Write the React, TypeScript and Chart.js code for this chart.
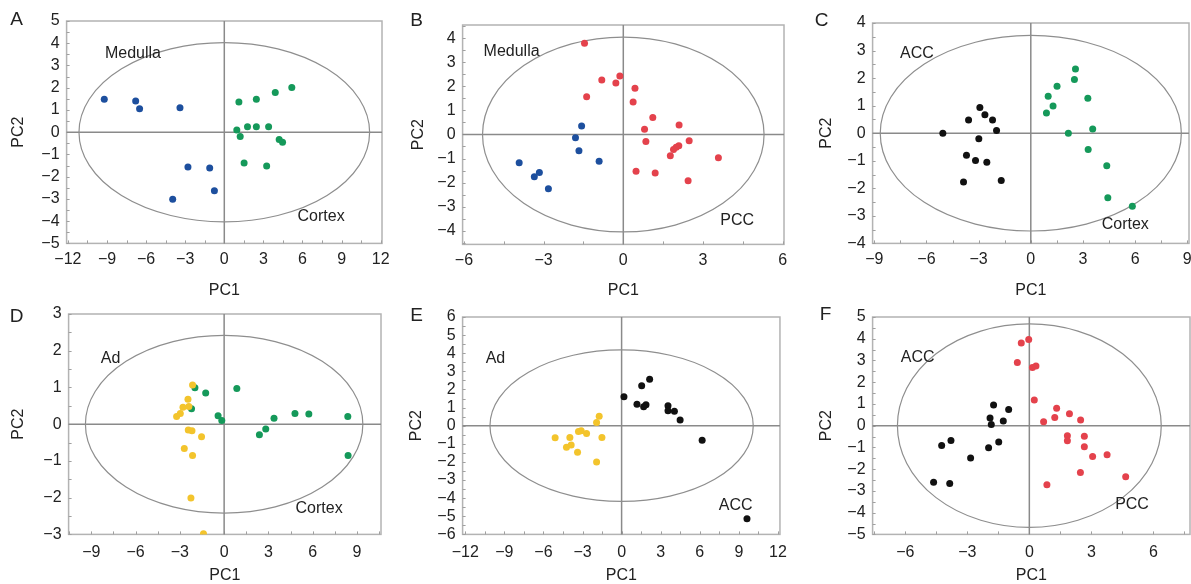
import React, { useEffect, useRef } from 'react';
import { Chart, registerables } from 'chart.js';

Chart.register(...registerables);

// ---------- Data (PC1, PC2) ----------
const aMedulla = [[-9.21, 1.48], [-6.8, 1.4], [-6.5, 1.06], [-3.4, 1.1], [-2.79, -1.57], [-1.12, -1.61], [-0.76, -2.63], [-3.96, -3.01]];
const aCortex = [[1.12, 1.36], [2.46, 1.48], [3.91, 1.79], [5.18, 2.01], [0.96, 0.1], [1.78, 0.24], [2.46, 0.24], [3.4, 0.24], [1.22, -0.19], [4.21, -0.33], [4.47, -0.45], [1.52, -1.39], [3.25, -1.52]];

const bMedulla = [[-1.57, 0.35], [-1.8, -0.14], [-1.67, -0.68], [-0.91, -1.11], [-3.92, -1.18], [-3.35, -1.76], [-3.16, -1.58], [-2.82, -2.26]];
const bPCC = [[-1.46, 3.79], [-0.81, 2.26], [-0.28, 2.14], [-0.13, 2.43], [-1.38, 1.57], [0.44, 1.92], [0.37, 1.35], [1.11, 0.71], [0.8, 0.22], [2.1, 0.39], [0.85, -0.29], [2.48, -0.26], [2.09, -0.47], [1.99, -0.53], [1.89, -0.63], [1.77, -0.89], [3.58, -0.97], [0.48, -1.53], [1.2, -1.6], [2.44, -1.92]];

const cACC = [[-5.06, 0.0], [-3.58, 0.48], [-2.93, 0.93], [-2.64, 0.67], [-2.2, 0.48], [-1.97, 0.1], [-2.99, -0.2], [-3.7, -0.8], [-3.18, -0.99], [-2.53, -1.05], [-3.87, -1.77], [-1.7, -1.72]];
const cCortex = [[2.57, 2.33], [2.51, 1.95], [1.51, 1.7], [1.0, 1.34], [1.28, 0.99], [0.9, 0.73], [3.28, 1.27], [2.16, 0.0], [3.56, 0.15], [3.3, -0.59], [4.37, -1.18], [4.43, -2.34], [5.84, -2.65]];

const dAd = [[-2.14, 1.07], [-2.45, 0.68], [-2.79, 0.46], [-2.39, 0.48], [-2.97, 0.29], [-3.22, 0.21], [-2.43, -0.16], [-2.18, -0.18], [-1.53, -0.34], [-2.7, -0.66], [-2.14, -0.85], [-2.25, -2.01], [-1.4, -2.98]];
const dCortex = [[-1.98, 0.99], [-1.25, 0.85], [0.86, 0.97], [-2.21, 0.42], [-0.41, 0.23], [-0.16, 0.1], [3.38, 0.16], [4.8, 0.29], [5.74, 0.28], [8.38, 0.21], [2.39, -0.29], [2.82, -0.13], [8.4, -0.85]];

const eAd = [[-1.72, 0.52], [-1.92, 0.18], [-3.31, -0.32], [-3.1, -0.28], [-2.69, -0.43], [-1.51, -0.65], [-5.1, -0.67], [-3.97, -0.65], [-3.87, -1.06], [-4.23, -1.19], [-3.38, -1.47], [-1.92, -2.01]];
const eACC = [[0.18, 1.6], [1.54, 2.2], [2.15, 2.57], [1.18, 1.19], [1.69, 1.04], [1.87, 1.15], [3.56, 1.1], [3.56, 0.82], [4.05, 0.8], [4.49, 0.32], [6.18, -0.8], [9.62, -5.14]];

const fACC = [[-1.73, 0.95], [-1.0, 0.74], [-1.9, 0.35], [-1.84, 0.06], [-1.26, 0.22], [-1.48, -0.75], [-1.97, -1.02], [-2.84, -1.49], [-3.79, -0.68], [-4.24, -0.91], [-4.63, -2.6], [-3.85, -2.66]];
const fPCC = [[-0.39, 3.8], [-0.03, 3.97], [-0.58, 2.91], [0.15, 2.68], [0.32, 2.75], [0.24, 1.18], [1.32, 0.8], [1.94, 0.55], [1.23, 0.38], [0.69, 0.18], [2.48, 0.26], [1.84, -0.46], [1.84, -0.69], [2.66, -0.49], [2.66, -0.97], [3.06, -1.42], [3.76, -1.34], [2.47, -2.15], [0.85, -2.72], [4.66, -2.35]];

// Confidence ellipse half-axes (PC1, PC2)
const ellipseA = [11.15, 4.03];
const ellipseB = [5.3, 4.05];
const ellipseC = [8.66, 3.55];
const ellipseD = [9.4, 2.42];
const ellipseE = [10.1, 4.18];
const ellipseF = [6.38, 4.68];

// Tick values
const xTicksA = [-12, -9, -6, -3, 0, 3, 6, 9, 12];
const yTicksA = [-5, -4, -3, -2, -1, 0, 1, 2, 3, 4, 5];
const xTicksB = [-6, -3, 0, 3, 6];
const yTicksB = [-4, -3, -2, -1, 0, 1, 2, 3, 4];
const xTicksC = [-9, -6, -3, 0, 3, 6, 9];
const yTicksC = [-4, -3, -2, -1, 0, 1, 2, 3, 4];
const xTicksD = [-9, -6, -3, 0, 3, 6, 9];
const yTicksD = [-3, -2, -1, 0, 1, 2, 3];
const xTicksE = [-12, -9, -6, -3, 0, 3, 6, 9, 12];
const yTicksE = [-6, -5, -4, -3, -2, -1, 0, 1, 2, 3, 4, 5, 6];
const xTicksF = [-6, -3, 0, 3, 6];
const yTicksF = [-5, -4, -3, -2, -1, 0, 1, 2, 3, 4, 5];

const BLUE = '#1d4f9e';
const GREEN = '#15995a';
const RED = '#e4424c';
const BLACK = '#111111';
const YELLOW = '#f3c42c';

const FONT = '"Liberation Sans", Arial, Helvetica, sans-serif';
const PAD_TOP = 20;
const PAD_RIGHT = 16;

type Pt = number[];
type Panel = {
  letter: string;
  letterPos: [number, number];
  rect: [number, number, number, number];
  xRange: [number, number];
  yRange: [number, number];
  xTicks: number[];
  yTicks: number[];
  yTitleX: number;
  xTitleY: number;
  tickPad: number;
  series: { data: Pt[]; color: string }[];
  ellipse: number[];
  labels: { text: string; x: number; y: number }[];
};

const panels: Panel[] = [
  {
    letter: 'A', letterPos: [17, 20], rect: [67, 21, 382, 243], xRange: [-12.1, 12.1], yRange: [-5, 5],
    xTicks: xTicksA, yTicks: yTicksA, yTitleX: 19, xTitleY: 290, tickPad: 7,
    series: [{ data: aMedulla, color: BLUE }, { data: aCortex, color: GREEN }], ellipse: ellipseA,
    labels: [{ text: 'Medulla', x: -9.16, y: 3.54 }, { text: 'Cortex', x: 5.62, y: -3.78 }],
  },
  {
    letter: 'B', letterPos: [417, 21], rect: [463, 25, 784, 244], xRange: [-6.05, 6.05], yRange: [-4.57, 4.55],
    xTicks: xTicksB, yTicks: yTicksB, yTitleX: 419, xTitleY: 290, tickPad: 7,
    series: [{ data: bMedulla, color: BLUE }, { data: bPCC, color: RED }], ellipse: ellipseB,
    labels: [{ text: 'Medulla', x: -5.26, y: 3.44 }, { text: 'PCC', x: 3.65, y: -3.6 }],
  },
  {
    letter: 'C', letterPos: [822, 21], rect: [873, 23, 1189, 243], xRange: [-9.1, 9.1], yRange: [-4, 4],
    xTicks: xTicksC, yTicks: yTicksC, yTitleX: 827, xTitleY: 290, tickPad: 7,
    series: [{ data: cACC, color: BLACK }, { data: cCortex, color: GREEN }], ellipse: ellipseC,
    labels: [{ text: 'ACC', x: -7.52, y: 2.9 }, { text: 'Cortex', x: 4.08, y: -3.32 }],
  },
  {
    letter: 'D', letterPos: [17, 317], rect: [69, 314, 381, 534], xRange: [-10.54, 10.63], yRange: [-3, 3],
    xTicks: xTicksD, yTicks: yTicksD, yTitleX: 19, xTitleY: 575, tickPad: 9,
    series: [{ data: dAd, color: YELLOW }, { data: dCortex, color: GREEN }], ellipse: ellipseD,
    labels: [{ text: 'Ad', x: -8.36, y: 1.78 }, { text: 'Cortex', x: 4.84, y: -2.3 }],
  },
  {
    letter: 'E', letterPos: [417, 316], rect: [463, 317, 780, 534], xRange: [-12.2, 12.15], yRange: [-6, 6],
    xTicks: xTicksE, yTicks: yTicksE, yTitleX: 417, xTitleY: 575, tickPad: 9,
    series: [{ data: eAd, color: YELLOW }, { data: eACC, color: BLACK }], ellipse: ellipseE,
    labels: [{ text: 'Ad', x: -10.43, y: 3.69 }, { text: 'ACC', x: 7.46, y: -4.41 }],
  },
  {
    letter: 'F', letterPos: [826, 315], rect: [873, 317, 1190, 534], xRange: [-7.58, 7.77], yRange: [-5, 5],
    xTicks: xTicksF, yTicks: yTicksF, yTitleX: 827, xTitleY: 575, tickPad: 9,
    series: [{ data: fACC, color: BLACK }, { data: fPCC, color: RED }], ellipse: ellipseF,
    labels: [{ text: 'ACC', x: -6.22, y: 3.12 }, { text: 'PCC', x: 4.15, y: -3.65 }],
  },
];

const TITLE_OFF = 13.6; // lineHeight/2 + padding for 16px font

function fmt(v: number) {
  return v < 0 ? '\u2212' + Math.abs(v) : String(v);
}

function geometry(p: Panel) {
  const [L, T, R, B] = p.rect;
  const wy = L - p.yTitleX + TITLE_OFF;
  const hx = p.xTitleY - B + TITLE_OFF;
  const left = L - wy;
  const top = T - PAD_TOP;
  const width = Math.round(wy + (R - L) + PAD_RIGHT);
  const height = Math.round(PAD_TOP + (B - T) + hx);
  return { wy, hx, left, top, width, height };
}

function PanelChart({ p }: { p: Panel }) {
  const ref = useRef<HTMLCanvasElement | null>(null);
  const g = geometry(p);
  useEffect(() => {
    if (!ref.current) return;
    const decor = {
      id: 'pcaDecor' + p.letter,
      beforeDatasetsDraw(chart: any) {
        const { ctx, chartArea: a } = chart;
        const xs = chart.scales.x;
        const ys = chart.scales.y;
        ctx.save();
        // frame
        ctx.strokeStyle = '#b3b3b3';
        ctx.lineWidth = 1.5;
        ctx.strokeRect(a.left, a.top, a.right - a.left, a.bottom - a.top);
        // minor ticks (inside)
        ctx.strokeStyle = '#a0a0a0';
        ctx.lineWidth = 1;
        ctx.beginPath();
        const yStep = 0.5;
        for (let v = Math.ceil(p.yRange[0] / yStep) * yStep; v <= p.yRange[1] + 1e-9; v += yStep) {
          const py = Math.round(ys.getPixelForValue(v)) + 0.5;
          ctx.moveTo(a.left, py);
          ctx.lineTo(a.left + 3, py);
        }
        const xStep = 1.5;
        for (let v = Math.ceil(p.xRange[0] / xStep) * xStep; v <= p.xRange[1] + 1e-9; v += xStep) {
          const px = Math.round(xs.getPixelForValue(v)) + 0.5;
          ctx.moveTo(px, a.bottom);
          ctx.lineTo(px, a.bottom - 3);
        }
        ctx.stroke();
        // zero lines
        const x0 = xs.getPixelForValue(0);
        const y0 = ys.getPixelForValue(0);
        ctx.strokeStyle = '#8a8a8a';
        ctx.lineWidth = 1.5;
        ctx.beginPath();
        ctx.moveTo(x0, a.top);
        ctx.lineTo(x0, a.bottom);
        ctx.moveTo(a.left, y0);
        ctx.lineTo(a.right, y0);
        ctx.stroke();
        // ellipse
        const rx = Math.abs(xs.getPixelForValue(p.ellipse[0]) - x0);
        const ry = Math.abs(ys.getPixelForValue(p.ellipse[1]) - y0);
        ctx.beginPath();
        ctx.ellipse(x0, y0, rx, ry, 0, 0, Math.PI * 2);
        ctx.strokeStyle = '#8e8e8e';
        ctx.lineWidth = 1.2;
        ctx.stroke();
        // group labels
        ctx.fillStyle = '#222';
        ctx.font = '16px ' + FONT;
        ctx.textAlign = 'left';
        ctx.textBaseline = 'middle';
        for (const l of p.labels) {
          ctx.fillText(l.text, xs.getPixelForValue(l.x), ys.getPixelForValue(l.y));
        }
        // panel letter
        ctx.font = '19px ' + FONT;
        ctx.textAlign = 'center';
        ctx.fillText(p.letter, p.letterPos[0] - g.left, p.letterPos[1] - g.top);
        ctx.restore();
      },
    };
    const font = { family: FONT, size: 16 };
    const chart = new Chart(ref.current, {
      type: 'scatter',
      data: {
        datasets: p.series.map((s) => ({
          data: s.data.map(([x, y]) => ({ x, y })),
          backgroundColor: s.color,
          borderColor: s.color,
          borderWidth: 0,
          pointRadius: 3.5,
          pointHoverRadius: 3.5,
        })),
      },
      options: {
        responsive: false,
        animation: false,
        events: [],
        layout: { padding: { top: PAD_TOP, right: PAD_RIGHT, left: 0, bottom: 0 } },
        plugins: { legend: { display: false }, tooltip: { enabled: false } },
        scales: {
          x: {
            type: 'linear',
            min: p.xRange[0],
            max: p.xRange[1],
            afterBuildTicks: (s: any) => { s.ticks = p.xTicks.map((v) => ({ value: v })); },
            afterFit: (s: any) => { s.height = g.hx; },
            grid: { display: false, drawTicks: false },
            border: { display: false },
            ticks: { font, color: '#222', padding: p.tickPad, maxRotation: 0, autoSkip: false, callback: (v: any) => fmt(Number(v)) },
            title: { display: true, text: 'PC1', font, color: '#222', padding: { top: 4, bottom: 4 } },
          },
          y: {
            type: 'linear',
            min: p.yRange[0],
            max: p.yRange[1],
            afterBuildTicks: (s: any) => { s.ticks = p.yTicks.map((v) => ({ value: v })); },
            afterFit: (s: any) => { s.width = g.wy; },
            grid: { display: false, drawTicks: false },
            border: { display: false },
            ticks: { font, color: '#222', padding: 7, autoSkip: false, callback: (v: any) => fmt(Number(v)) },
            title: { display: true, text: 'PC2', font, color: '#222', padding: { top: 4, bottom: 4 } },
          },
        },
      },
      plugins: [decor],
    } as any);
    return () => chart.destroy();
  }, []);
  return (
    <canvas
      ref={ref}
      width={g.width}
      height={g.height}
      style={{ position: 'absolute', left: Math.round(g.left), top: Math.round(g.top), width: g.width, height: g.height }}
    />
  );
}

export default function App() {
  return (
    <div style={{ position: 'fixed', left: 0, top: 0, width: 1191, height: 584, overflow: 'hidden', background: '#fff' }}>
      {panels.map((p) => (
        <PanelChart key={p.letter} p={p} />
      ))}
    </div>
  );
}
